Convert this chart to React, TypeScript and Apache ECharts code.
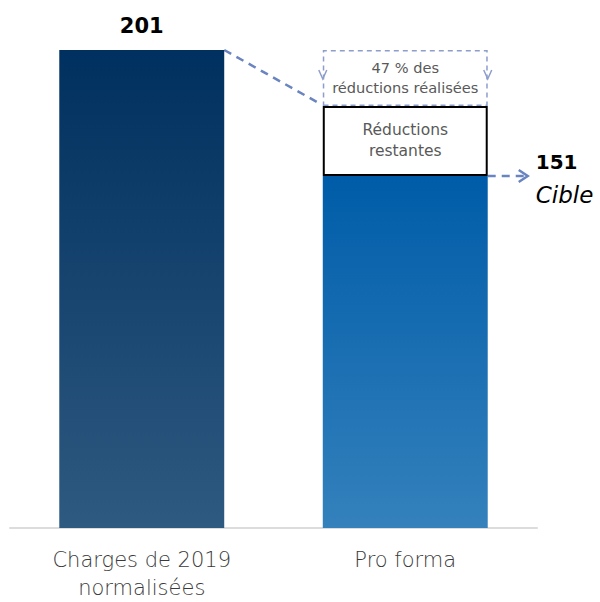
import React, { useEffect, useRef } from "react";
import * as echarts from "echarts";

const categories = ["Charges de 2019\nnormalisées", "Pro forma"];
const baseValues = [201, 148];
const remainingValues: (number | null)[] = [null, 29.5];
const realizedValues: (number | null)[] = [null, 23.5];
const valueLabels = ["201", "151"];
const targetLabel = "Cible";
const remainingText = "Réductions\nrestantes";
const realizedText = "47 % des\nréductions réalisées";

const FONT = "'DejaVu Sans', 'Noto Sans', sans-serif";
const BAR_RATIO = 0.626;

export default function App() {
  const ref = useRef<HTMLDivElement>(null);
  useEffect(() => {
    if (!ref.current) return;
    const chart = echarts.init(ref.current, null, { renderer: "svg" });
    const g1 = new echarts.graphic.LinearGradient(0, 0, 0, 1, [
      { offset: 0, color: "#00305f" },
      { offset: 1, color: "#2e5980" },
    ]);
    const g2 = new echarts.graphic.LinearGradient(0, 0, 0, 1, [
      { offset: 0, color: "#005ca8" },
      { offset: 1, color: "#3481bc" },
    ]);
    chart.setOption({
      animation: false,
      grid: { left: 10, right: 63, top: 50, bottom: 72 },
      xAxis: {
        type: "category",
        data: categories,
        axisLine: { lineStyle: { color: "#dcdcdc", width: 2 } },
        axisTick: { show: false },
        axisLabel: {
          fontFamily: FONT,
          fontSize: 21,
          fontWeight: 200,
          color: "#3a3a3a",
          lineHeight: 28,
          margin: 18,
        },
      },
      yAxis: { type: "value", min: 0, max: 201, show: false, splitLine: { show: false } },
      series: [
        {
          type: "bar",
          stack: "a",
          barWidth: BAR_RATIO * 100 + "%",
          data: baseValues.map((v, i) => ({
            value: v,
            itemStyle: { color: i === 0 ? g1 : g2 },
            label:
              i === 0
                ? {
                    show: true,
                    position: "top",
                    distance: 14,
                    formatter: valueLabels[0],
                    fontFamily: FONT,
                    fontSize: 21,
                    fontWeight: "bold",
                    color: "#000",
                  }
                : { show: false },
          })),
        },
        {
          type: "bar",
          stack: "a",
          data: remainingValues,
          itemStyle: { color: "#fff", borderColor: "#000", borderWidth: 2 },
          label: {
            show: true,
            position: "inside",
            formatter: remainingText,
            fontFamily: FONT,
            fontSize: 15.5,
            color: "#595959",
            lineHeight: 21,
          },
        },
        {
          type: "bar",
          stack: "a",
          data: realizedValues,
          itemStyle: {
            color: "rgba(255,255,255,0)",
            borderColor: "#8d9ecb",
            borderWidth: 1.5,
            borderType: [5, 4],
          },
          label: {
            show: true,
            position: "inside",
            formatter: realizedText,
            fontFamily: FONT,
            fontSize: 14.6,
            color: "#595959",
            lineHeight: 20,
          },
        },
      ],
    });

    const px = (i: number, v: number) =>
      chart.convertToPixel({ xAxisIndex: 0, yAxisIndex: 0 }, [i, v]) as number[];
    const a = px(0, baseValues[0]);
    const b = px(1, baseValues[1]);
    const band = b[0] - a[0];
    const half = (band * BAR_RATIO) / 2;
    const topRemain = px(1, baseValues[1] + (remainingValues[1] as number))[1];
    const topAll = px(1, baseValues[1] + (remainingValues[1] as number) + (realizedValues[1] as number))[1];
    const line = "#6a84c0";
    const right2 = b[0] + half;
    const left2 = b[0] - half;
    const arrEnd = right2 + 40;
    const tip = topAll + 29;
    const chevron = (x: number) => ({
      type: "polyline",
      shape: { points: [[x - 4, tip - 9], [x, tip], [x + 4, tip - 9]] },
      style: { stroke: "#8d9ecb", lineWidth: 1.5, fill: null },
    });
    chart.setOption({
      graphic: [
        {
          type: "line",
          shape: { x1: a[0] + half, y1: a[1], x2: left2 - 6, y2: topRemain - 4 },
          style: { stroke: line, lineWidth: 2.5, lineDash: [8, 6] },
        },
        {
          type: "line",
          shape: { x1: right2, y1: b[1], x2: arrEnd, y2: b[1] },
          style: { stroke: line, lineWidth: 2.5, lineDash: [8, 6] },
        },
        {
          type: "polyline",
          shape: { points: [[arrEnd - 9, b[1] - 6], [arrEnd, b[1]], [arrEnd - 9, b[1] + 6]] },
          style: { stroke: line, lineWidth: 2.5, fill: null },
        },
        chevron(left2),
        chevron(right2),
        {
          type: "text",
          x: arrEnd + 8,
          y: b[1] - 14,
          style: {
            text: valueLabels[1],
            fontFamily: FONT,
            fontSize: 20,
            fontWeight: "bold",
            fill: "#000",
            verticalAlign: "middle",
          },
        },
        {
          type: "text",
          x: arrEnd + 8,
          y: b[1] + 19,
          style: {
            text: targetLabel,
            fontFamily: FONT,
            fontSize: 23,
            fontStyle: "italic",
            fill: "#000",
            verticalAlign: "middle",
          },
        },
      ],
    });
    return () => chart.dispose();
  }, []);
  return <div ref={ref} style={{ width: 600, height: 602, position: "absolute", left: 0, top: 0 }} />;
}
